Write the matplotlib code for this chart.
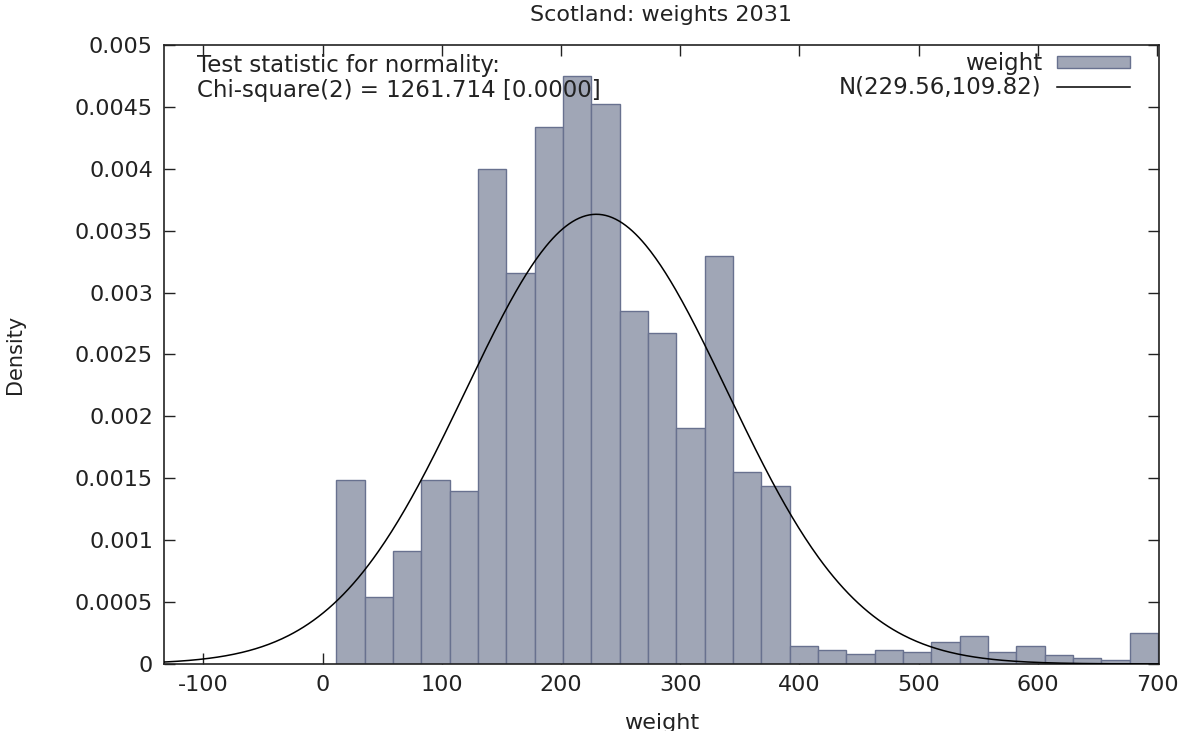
import numpy as np
import matplotlib
matplotlib.use("Agg")
import matplotlib.pyplot as plt

# Histogram bins (left edge of first bin, common width) and densities
bin_start = 11.5
bin_width = 23.77
densities = [
    0.00149, 0.000544, 0.000913, 0.00149, 0.001397,
    0.00400, 0.003156, 0.004338, 0.00475, 0.004521,
    0.002854, 0.002671, 0.001906, 0.003298, 0.001548,
    0.001438, 0.000148, 0.000111, 0.0000835, 0.000111,
    0.0000943, 0.000175, 0.000226, 0.000094, 0.000148,
    0.0000727, 0.000046, 0.000032, 0.000248,
]

# Fitted normal from the legend
mu = 229.56
sigma = 109.82

x_ticks = [-100, 0, 100, 200, 300, 400, 500, 600, 700]
y_ticks = [0, 0.0005, 0.001, 0.0015, 0.002, 0.0025, 0.003, 0.0035, 0.004, 0.0045, 0.005]
y_tick_labels = ["0", "0.0005", "0.001", "0.0015", "0.002", "0.0025",
                 "0.003", "0.0035", "0.004", "0.0045", "0.005"]

x_min, x_max = -133, 701.5

plt.rcParams['font.family'] = ['DejaVu Sans']
plt.rcParams['axes.unicode_minus'] = False
fs = 16
ink = '#222222'

fig = plt.figure(figsize=(11.86, 7.31), dpi=100)
ax = fig.add_axes([0.1383, 0.0917, 0.9772 - 0.1383, 0.9384 - 0.0917])

lefts = bin_start + bin_width * np.arange(len(densities))
bars = ax.bar(lefts, densities, width=bin_width, align='edge',
              color='#a0a6b6', edgecolor='#68718f', linewidth=1.0,
              label='weight', zorder=2)

xs = np.linspace(x_min, x_max, 600)
pdf = np.exp(-0.5 * ((xs - mu) / sigma) ** 2) / (sigma * np.sqrt(2 * np.pi))
line, = ax.plot(xs, pdf, color='black', linewidth=1.1,
                label='N(%.2f,%.2f)' % (mu, sigma), zorder=3)

ax.set_xlim(x_min, x_max)
ax.set_ylim(0, 0.005)
ax.set_xticks(x_ticks)
ax.set_yticks(y_ticks)
ax.set_yticklabels(y_tick_labels)
ax.tick_params(direction='in', length=8, width=1, top=True, right=True,
               labelsize=fs, colors=ink, pad=8)
for s in ax.spines.values():
    s.set_linewidth(1.2)
    s.set_color(ink)

ax.set_xlabel('weight', fontsize=fs, color=ink, va='top')
ax.xaxis.set_label_coords(0.5, -0.079)
ax.set_ylabel('Density', fontsize=15, color=ink,
              family=['Liberation Sans Narrow', 'DejaVu Sans'])
ax.yaxis.set_label_coords(-0.1397, 0.5)
ax.set_title('Scotland: weights 2031', fontsize=fs, color=ink, pad=17)

ax.text(0.033, 0.9855, 'Test statistic for normality:\nChi-square(2) = 1261.714 [0.0000]',
        transform=ax.transAxes, ha='left', va='top', fontsize=16.5,
        color=ink, linespacing=1.12, zorder=4)

leg = ax.legend([bars, line], ['weight', 'N(%.2f,%.2f)' % (mu, sigma)],
                loc='upper right', frameon=False, markerfirst=False,
                fontsize=16.5, handlelength=3.2, handleheight=0.45,
                borderaxespad=0, borderpad=0, labelspacing=0.05,
                handletextpad=0.65, bbox_to_anchor=(0.9709, 0.989))
for t in leg.get_texts():
    t.set_color(ink)

fig.savefig('out.png', dpi=100)
